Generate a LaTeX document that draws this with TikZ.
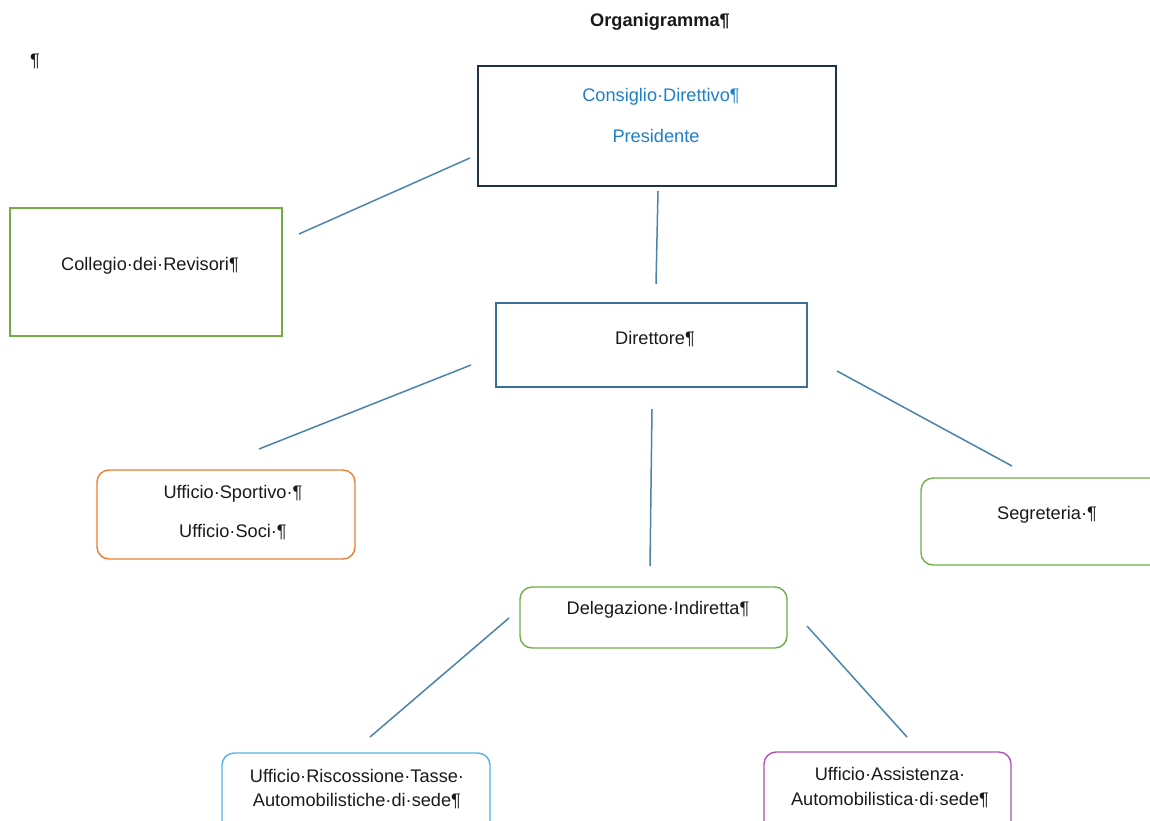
\documentclass[tikz,border=0pt]{standalone}
\usepackage{fontspec}
\setmainfont{Liberation Sans}
\definecolor{navy}{HTML}{1F3344}
\definecolor{cdblue}{HTML}{1F7FC8}
\definecolor{steel}{HTML}{3A6F96}
\definecolor{gr}{HTML}{70AD47}
\definecolor{orng}{HTML}{ED7D31}
\definecolor{lblue}{HTML}{4FB3E0}
\definecolor{purp}{HTML}{B14DB8}
\definecolor{conn}{HTML}{4A84A8}
\definecolor{txt}{HTML}{1A1A1A}
\tikzset{
  rbox/.style={draw, line width=1.4pt, rounded corners=12pt},
  lbl/.style={inner sep=0pt, text=txt, font=\fontsize{18.2}{22}\selectfont},
  link/.style={draw=conn, line width=1.5pt},
}
\begin{document}
\begin{tikzpicture}[x=1pt,y=-1pt]
\useasboundingbox (0,0) rectangle (1150,820);
\clip (0,0) rectangle (1150,820);
% title and mark
\node[lbl, font=\fontsize{18.2}{22}\selectfont\bfseries] (title) at (660,22) {Organigramma¶};
\node[lbl] (mark) at (35,61) {¶};
% boxes
\draw[navy, line width=1.4pt] (478,66) rectangle (836,186) node[pos=0.5, draw=none] (cd) {};
\node[lbl, text=cdblue] (cdt1) at (661,97) {Consiglio·Direttivo¶};
\node[lbl, text=cdblue] (cdt2) at (656,136) {Presidente};
\draw[gr, line width=1.4pt] (10,208) rectangle (282,336) node[pos=0.5, draw=none] (cr) {};
\node[lbl] (crt) at (150,266) {Collegio·dei·Revisori¶};
\draw[steel, line width=1.4pt] (496,303) rectangle (807,387) node[pos=0.5, draw=none] (dir) {};
\node[lbl] (dirt) at (655,339) {Direttore¶};
\draw[orng, rbox] (97,470) rectangle (355,559) node[pos=0.5, draw=none] (us) {};
\node[lbl] (ust1) at (233,494) {Ufficio·Sportivo·¶};
\node[lbl] (ust2) at (233,532) {Ufficio·Soci·¶};
\draw[gr, rbox] (921,478) rectangle (1175,565) node[pos=0.5, draw=none] (seg) {};
\node[lbl] (segt) at (1047,515) {Segreteria·¶};
\draw[gr, rbox] (520,587) rectangle (787,648) node[pos=0.5, draw=none] (del) {};
\node[lbl] (delt) at (658,610) {Delegazione·Indiretta¶};
\draw[lblue, rbox] (222,753) rectangle (490,845) node[pos=0.5, draw=none] (urt) {};
\node[lbl] (urt1) at (357,776) {Ufficio·Riscossione·Tasse·};
\node[lbl] (urt2) at (357,801) {Automobilistiche·di·sede¶};
\draw[purp, rbox] (764,752) rectangle (1011,845) node[pos=0.5, draw=none] (uas) {};
\node[lbl] (uas1) at (890,774) {Ufficio·Assistenza·};
\node[lbl] (uas2) at (890,800) {Automobilistica·di·sede¶};
% connector end points
\coordinate (a1) at (299,234); \coordinate (a2) at (470,158);
\coordinate (b1) at (658,191); \coordinate (b2) at (656,284);
\coordinate (c1) at (471,365); \coordinate (c2) at (259,449);
\coordinate (d1) at (652,409); \coordinate (d2) at (650,566);
\coordinate (e1) at (837,371); \coordinate (e2) at (1012,466);
\coordinate (f1) at (509,618); \coordinate (f2) at (370,737);
\coordinate (g1) at (807,626); \coordinate (g2) at (907,737);
\draw[link] (a1) -- (a2);
\draw[link] (b1) -- (b2);
\draw[link] (c1) -- (c2);
\draw[link] (d1) -- (d2);
\draw[link] (e1) -- (e2);
\draw[link] (f1) -- (f2);
\draw[link] (g1) -- (g2);
\end{tikzpicture}
\end{document}
